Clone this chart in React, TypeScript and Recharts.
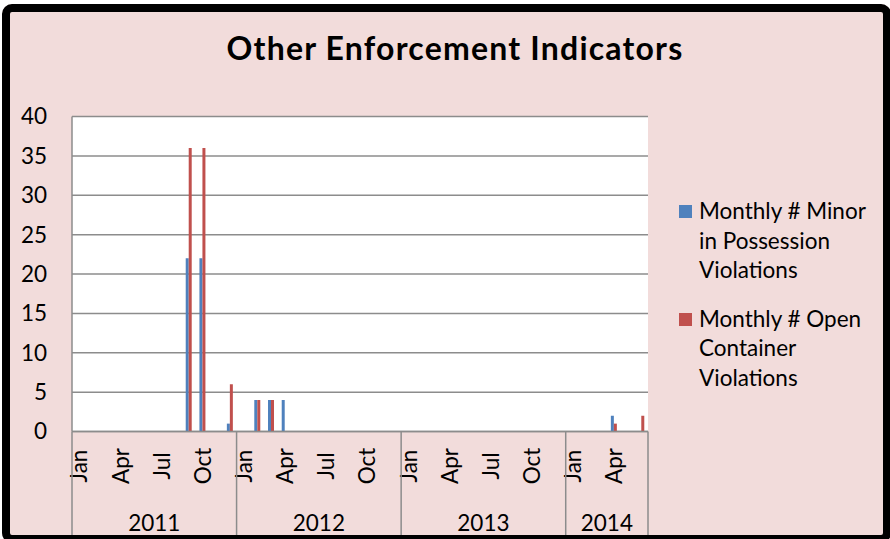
import React from 'react';
import { BarChart, Bar, XAxis, YAxis, CartesianGrid, Legend } from 'recharts';

const monthNames = ['Jan', 'Feb', 'Mar', 'Apr', 'May', 'Jun', 'Jul', 'Aug', 'Sep', 'Oct', 'Nov', 'Dec'];
const years = ['2011', '2012', '2013', '2014'];
const monthsPerYear = [12, 12, 12, 6];
const labeledMonths = ['Jan', 'Apr', 'Jul', 'Oct'];
const yTicks = [0, 5, 10, 15, 20, 25, 30, 35, 40];

// Jan 2011 .. Jun 2014
const minorInPossession = [
  null, null, null, null, null, null, null, null, 22, 22, null, 1,
  null, 4, 4, 4, null, null, null, null, null, null, null, null,
  null, null, null, null, null, null, null, null, null, null, null, null,
  null, null, null, 2, null, null,
];
const openContainer = [
  null, null, null, null, null, null, null, null, 36, 36, null, 6,
  null, 4, 4, null, null, null, null, null, null, null, null, null,
  null, null, null, null, null, null, null, null, null, null, null, null,
  null, null, null, 1, null, 2,
];

const SERIES_A = 'Monthly # Minor in Possession Violations';
const SERIES_B = 'Monthly # Open Container Violations';

const data: any[] = [];
years.forEach((yr, yi) => {
  for (let m = 0; m < monthsPerYear[yi]; m++) {
    const i = data.length;
    data.push({
      key: `${yr}-${m}`,
      month: monthNames[m],
      monthIndex: m,
      year: yr,
      yearIndex: yi,
      [SERIES_A]: minorInPossession[i],
      [SERIES_B]: openContainer[i],
    });
  }
});

const FONT = 'Lato, "Open Sans", sans-serif';
const GRID = '#8c8c8c';
const FS = 22.5;

const XTick = (props: any) => {
  const { x, y, index, payload } = props;
  const d = data[index];
  if (!d) return null;
  const half = payload && payload.offset ? payload.offset : 6.857;
  const band = half * 2;
  const els: any[] = [];
  const lineBottom = y + 103.5;
  if (labeledMonths.includes(d.month)) {
    const cy = y + 34.5;
    els.push(
      <text key="m" x={x} y={cy} transform={`rotate(-90, ${x}, ${cy})`} textAnchor="middle"
        dominantBaseline="central" fontFamily={FONT} fontSize={FS} fill="#000">
        {d.month}
      </text>
    );
  }
  if (d.monthIndex === 0) {
    const left = x - half;
    els.push(<line key="l" x1={left} x2={left} y1={y} y2={lineBottom} stroke={GRID} strokeWidth={1.5} />);
    const cx = left + (monthsPerYear[d.yearIndex] * band) / 2;
    els.push(
      <text key="y" x={cx} y={y + 99.5} textAnchor="middle" fontFamily={FONT} fontSize={FS} fill="#000">
        {d.year}
      </text>
    );
  }
  if (index === data.length - 1) {
    const right = x + half;
    els.push(<line key="r" x1={right} x2={right} y1={y} y2={lineBottom} stroke={GRID} strokeWidth={1.5} />);
  }
  return <g>{els}</g>;
};

const LegendContent = (props: any) => {
  const { payload } = props;
  return (
    <div style={{ fontFamily: FONT, fontSize: FS, lineHeight: '29.5px', color: '#000' }}>
      {(payload || []).map((p: any, i: number) => (
        <div key={i} style={{ display: 'flex', alignItems: 'flex-start', marginBottom: 19 }}>
          <div style={{ width: 13, height: 13, background: p.color, marginTop: 9, marginRight: 7, flex: 'none' }} />
          <div style={{ width: 185 }}>{p.value}</div>
        </div>
      ))}
    </div>
  );
};

export default function App() {
  return (
    <div style={{ position: 'absolute', left: 0, top: 0, width: 890, height: 539, overflow: 'hidden', background: '#fff' }}>
      <div style={{ position: 'absolute', left: 2, top: 4, width: 889, height: 539, background: '#F2DCDB', borderRadius: 10 }} />
      <div style={{ position: 'absolute', left: 0, top: 0 }}>
        <BarChart
          width={890}
          height={539}
          data={data}
          margin={{ top: 116.5, right: 242, bottom: 0, left: 0 }}
          barGap={0}
          barSize={3}
        >
          <CartesianGrid horizontal vertical={false} stroke={GRID} strokeWidth={1.5} fill="#ffffff" />
          <XAxis
            dataKey="key"
            interval={0}
            tickSize={0}
            tickMargin={0}
            tickLine={false}
            axisLine={{ stroke: GRID, strokeWidth: 1.5 }}
            height={107.5}
            tick={<XTick />}
          />
          <YAxis
            width={72}
            domain={[0, 40]}
            ticks={yTicks}
            interval={0}
            tickLine={false}
            tickSize={0}
            tickMargin={25}
            axisLine={{ stroke: GRID, strokeWidth: 1.5 }}
            tick={{ fontFamily: FONT, fontSize: FS, fill: '#000' }}
          />
          <Legend
            layout="vertical"
            align="center"
            verticalAlign="middle"
            wrapperStyle={{ left: 679, top: 196, width: 208 }}
            content={<LegendContent />}
          />
          <Bar dataKey={SERIES_A} fill="#4F81BD" isAnimationActive={false} />
          <Bar dataKey={SERIES_B} fill="#C0504D" isAnimationActive={false} />
        </BarChart>
      </div>
      <div style={{ position: 'absolute', left: 0, width: 910, top: 30, textAlign: 'center', fontFamily: FONT, fontWeight: 700, fontSize: 32, letterSpacing: 1.2, lineHeight: '36px', color: '#000', pointerEvents: 'none' }}>
        Other Enforcement Indicators
      </div>
      <div style={{ position: 'absolute', left: 2, top: 4, width: 889, height: 539, border: '8px solid #000', borderRadius: 10, boxSizing: 'border-box', pointerEvents: 'none' }} />
    </div>
  );
}
